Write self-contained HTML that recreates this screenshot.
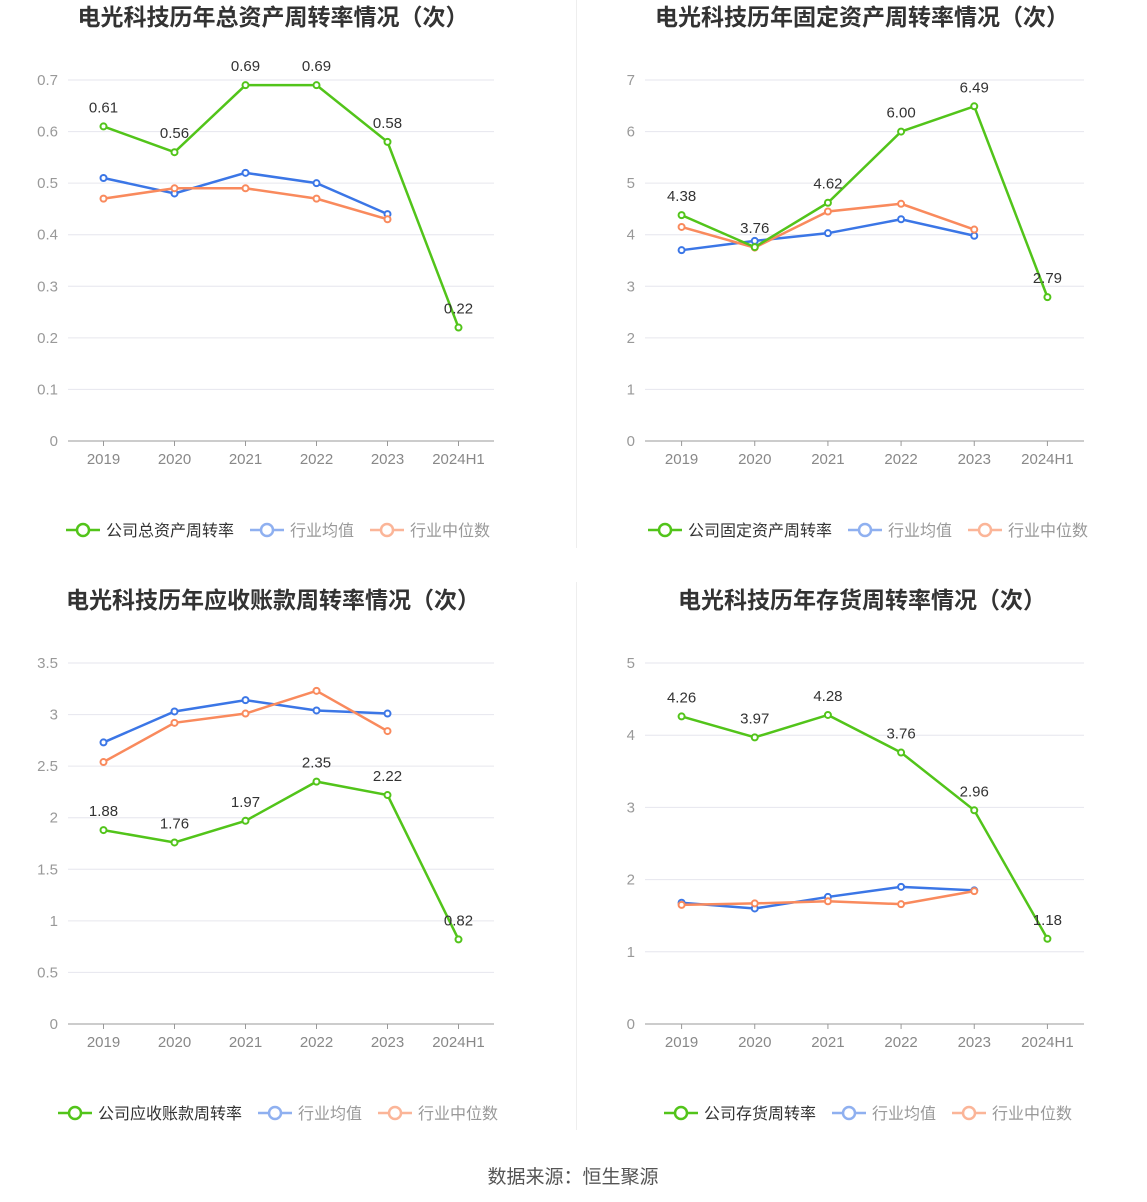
<!DOCTYPE html>
<html><head><meta charset="utf-8">
<style>
body{margin:0;background:#fff;width:1147px;height:1202px;overflow:hidden;font-family:"Liberation Sans","Noto Sans CJK SC",sans-serif;}
svg{position:absolute;left:0;top:0}
</style></head>
<body>
<svg id="root" width="1147" height="1202"></svg>
<script>
const categories = ["2019","2020","2021","2022","2023","2024H1"];
const totalAssetCompany = [0.61,0.56,0.69,0.69,0.58,0.22];
const totalAssetAvg = [0.51,0.48,0.52,0.50,0.44];
const totalAssetMedian = [0.47,0.49,0.49,0.47,0.43];
const totalAssetTicks = [0,0.1,0.2,0.3,0.4,0.5,0.6,0.7];
const fixedAssetCompany = [4.38,3.76,4.62,6.00,6.49,2.79];
const fixedAssetAvg = [3.70,3.88,4.03,4.30,3.98];
const fixedAssetMedian = [4.15,3.75,4.45,4.60,4.10];
const fixedAssetTicks = [0,1,2,3,4,5,6,7];
const receivableCompany = [1.88,1.76,1.97,2.35,2.22,0.82];
const receivableAvg = [2.73,3.03,3.14,3.04,3.01];
const receivableMedian = [2.54,2.92,3.01,3.23,2.84];
const receivableTicks = [0,0.5,1,1.5,2,2.5,3,3.5];
const inventoryCompany = [4.26,3.97,4.28,3.76,2.96,1.18];
const inventoryAvg = [1.68,1.60,1.76,1.90,1.85];
const inventoryMedian = [1.65,1.67,1.70,1.66,1.84];
const inventoryTicks = [0,1,2,3,4,5];

const NS="http://www.w3.org/2000/svg";
const root=document.getElementById('root');
function el(tag,attrs,parent,text){const e=document.createElementNS(NS,tag);for(const k in attrs)e.setAttribute(k,attrs[k]);if(text!==undefined)e.textContent=text;(parent||root).appendChild(e);return e;}
const GREEN="#52c41a",BLUE="#3b76e6",ORANGE="#f98a5d";

function chart(cfg){
  const g=el('g',{});
  
  
  const {x0,x1,yTop,yBot,max,ticks}=cfg;
  const y=v=>yBot-(v/max)*(yBot-yTop);
  const step=(x1-x0)/6;
  const x=i=>x0+step*(i+0.5);
  const t=el('text',{x:cfg.cx,y:cfg.ty,'text-anchor':'middle','font-size':23,'font-weight':'bold',fill:'#333'},g,cfg.title);
  
  
  ticks.forEach(v=>{
    const l=el('line',{x1:x0,x2:x1,y1:y(v),y2:y(v),stroke:v===0?'#999':'#e6e6ee','stroke-width':1},g);
    
    
    const tx=el('text',{x:x0-10,y:y(v)+5,'text-anchor':'end','font-size':15,fill:'#999'},g,String(v));
    
    
  });
  categories.forEach((c,i)=>{
    el('line',{x1:x(i),x2:x(i),y1:yBot,y2:yBot+5,stroke:'#999'},g);
    const tx=el('text',{x:x(i),y:yBot+23,'text-anchor':'middle','font-size':15,fill:'#888'},g,c);
    
    
  });
  function series(vals,color,name,labels){
    const p=el('polyline',{points:vals.map((v,i)=>x(i)+','+y(v)).join(' '),fill:'none',stroke:color,'stroke-width':2.5},g);
    
    
    vals.forEach((v,i)=>{
      const c=el('circle',{cx:x(i),cy:y(v),r:3,fill:'#fff',stroke:color,'stroke-width':2},g);
      
      
      if(labels){
        const tx=el('text',{x:x(i),y:y(v)-14,'text-anchor':'middle','font-size':15,fill:'#333'},g,v.toFixed(2));
        
        
      }
    });
  }
  series(cfg.avg,BLUE,'industry-average-line',false);
  series(cfg.med,ORANGE,'industry-median-line',false);
  series(cfg.comp,GREEN,'company-line',true);
  let lx=cfg.lx;const ly=cfg.ly;
  const items=[[cfg.legend,GREEN,'#333'],['行业均值','#8fb0f0','#999'],['行业中位数','#fbb598','#999']];
  items.forEach(([name,col,tc])=>{
    const lg=el('g',{},g);
    
    
    el('line',{x1:lx,x2:lx+34,y1:ly,y2:ly,stroke:col,'stroke-width':2.5},lg);
    el('circle',{cx:lx+17,cy:ly,r:6,fill:'#fff',stroke:col,'stroke-width':2.5},lg);
    el('text',{x:lx+40,y:ly+6,'font-size':16,fill:tc},lg,name);
    lx+=40+name.length*16+16;
  });
}
chart({name:'total-asset-turnover-chart',title:'电光科技历年总资产周转率情况（次）',cx:273,ty:25,x0:68,x1:494,yTop:80,yBot:441,max:0.7,ticks:totalAssetTicks,comp:totalAssetCompany,avg:totalAssetAvg,med:totalAssetMedian,legend:'公司总资产周转率',lx:66,ly:530});
chart({name:'fixed-asset-turnover-chart',title:'电光科技历年固定资产周转率情况（次）',cx:862,ty:25,x0:645,x1:1084,yTop:80,yBot:441,max:7,ticks:fixedAssetTicks,comp:fixedAssetCompany,avg:fixedAssetAvg,med:fixedAssetMedian,legend:'公司固定资产周转率',lx:648,ly:530});
chart({name:'receivable-turnover-chart',title:'电光科技历年应收账款周转率情况（次）',cx:273,ty:608,x0:68,x1:494,yTop:663,yBot:1024,max:3.5,ticks:receivableTicks,comp:receivableCompany,avg:receivableAvg,med:receivableMedian,legend:'公司应收账款周转率',lx:58,ly:1113});
chart({name:'inventory-turnover-chart',title:'电光科技历年存货周转率情况（次）',cx:862,ty:608,x0:645,x1:1084,yTop:663,yBot:1024,max:5,ticks:inventoryTicks,comp:inventoryCompany,avg:inventoryAvg,med:inventoryMedian,legend:'公司存货周转率',lx:664,ly:1113});
const d1=el('line',{x1:576.5,x2:576.5,y1:0,y2:548,stroke:'#eee'});


const d2=el('line',{x1:576.5,x2:576.5,y1:582,y2:1130,stroke:'#eee'});


const src=el('text',{x:573,y:1183,'text-anchor':'middle','font-size':19,fill:'#555'},root,'数据来源：恒生聚源');


</script>
</body></html>
